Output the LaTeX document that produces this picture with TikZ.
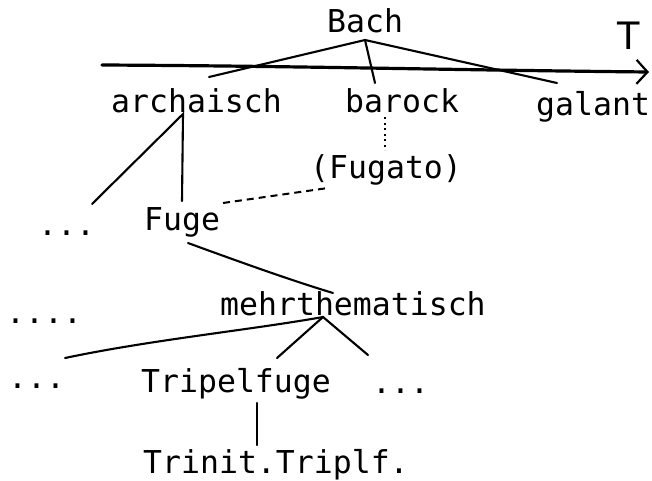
\documentclass[tikz,border=0pt]{standalone}
\usepackage{fontspec}
\setmonofont{DejaVu Sans Mono}
\newfontfamily\tfont{Liberation Sans}
\usetikzlibrary{arrows.meta}
\begin{document}
\begin{tikzpicture}[x=1pt,y=-1pt,
  lbl/.style={anchor=base west, inner sep=0pt, font=\fontsize{31.5}{31.5}\selectfont\ttfamily},
  ln/.style={line width=2.1pt, line cap=round},
]
\useasboundingbox (0,0) rectangle (652,480);
% labels
\node[lbl] (bach) at (327,32) {Bach};
\node[lbl] (arch) at (111,112) {archaisch};
\node[lbl] (baro) at (345,112) {barock};
\node[lbl] (gal) at (536,115) {galant};
\node[lbl] (fugato) at (310,178) {(Fugato)};
\node[lbl] (fuge) at (144,230) {Fuge};
\node[lbl] (d1) at (38,235) {...};
\node[lbl] (mehr) at (220,315) {mehrthematisch};
\node[lbl] (d2) at (6,323) {....};
\node[lbl] (d3) at (8,388) {...};
\node[lbl] (trip) at (141,392) {Tripelfuge};
\node[lbl] (d4) at (372,393) {...};
\node[lbl] (trin) at (143,473) {Trinit.Triplf.};
\node[anchor=base, inner sep=0pt, font=\fontsize{40}{40}\selectfont\tfont] (T) at (629,49) {T};
% coordinates
\coordinate (t0) at (102,65);
\coordinate (t1) at (649,72);
\coordinate (jb) at (365,40);
\coordinate (ea) at (209,77);
\coordinate (eb) at (375,83);
\coordinate (eg) at (557,83);
\coordinate (ja) at (183,114);
\coordinate (ea1) at (92,204);
\coordinate (ea2) at (182,201);
\coordinate (db0) at (385,117);
\coordinate (db1) at (385,150);
\coordinate (df0) at (223,203);
\coordinate (df1) at (328,188);
\coordinate (fm0) at (188,243);
\coordinate (fm1) at (333,293);
\coordinate (jm) at (323,317);
\coordinate (em1) at (65,358);
\coordinate (em2) at (277,358);
\coordinate (em3) at (368,355);
\coordinate (tt0) at (257,403);
\coordinate (tt1) at (257,445);
% timeline
\draw[line width=3.2pt, line cap=round, -{Straight Barb[length=11pt,width=24pt,line width=2.2pt]}]
  (t0) .. controls (300,66) and (450,70) .. (t1);
% Bach branches
\draw[ln] (ea) -- (jb) -- (eg);
\draw[ln] (jb) -- (eb);
% archaisch branches
\draw[ln] (ea1) -- (ja) -- (ea2);
% dotted / dashed
\draw[line width=2pt, dash pattern=on 2pt off 3.5pt] (db0) -- (db1);
\draw[line width=2pt, dash pattern=on 7pt off 5pt] (df0) -- (df1);
% Fuge -> mehrthematisch
\draw[ln] (fm0) .. controls (240,262) and (290,280) .. (fm1);
% mehrthematisch branches
\draw[ln] (em1) .. controls (150,340) and (250,330) .. (jm);
\draw[ln] (em2) -- (jm) -- (em3);
% Tripelfuge -> Trinit
\draw[ln] (tt0) -- (tt1);
\end{tikzpicture}
\end{document}
